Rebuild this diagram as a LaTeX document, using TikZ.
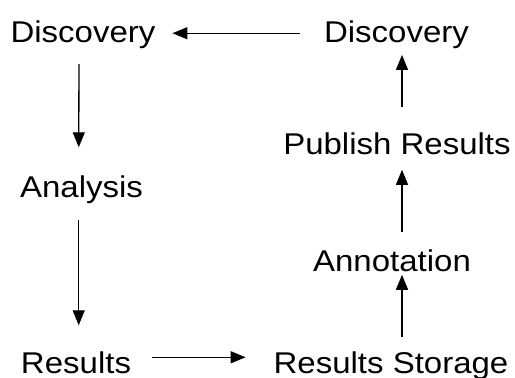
\documentclass[tikz,border=0pt]{standalone}
\usepackage{fontspec}
\setmainfont{Liberation Sans}[FakeStretch=1.1]
\usetikzlibrary{arrows.meta,positioning}
\tikzset{
  >={Triangle[length=15pt,width=12pt]},
  step label/.style={inner sep=0pt,outer sep=0pt,anchor=base,
    font=\fontsize{30}{36}\selectfont},
  flow/.style={->,line width=1.3pt,draw=black},
}
\begin{document}
\begin{tikzpicture}[x=1pt,y=-1pt]
  \useasboundingbox[fill=white] (0,0) rectangle (515,378);
  % stages
  \node[step label] (discL) at (83,42) {Discovery};
  \node[step label] (discR) at (396.5,42) {Discovery};
  \node[step label] (analysis) at (81.5,197) {Analysis};
  \node[step label] (results) at (76,373) {Results};
  \node[step label] (storage) at (391,373) {Results Storage};
  \node[step label] (annot) at (392,271) {Annotation};
  \node[step label] (publish) at (397,154) {Publish Results};
  % left column
  \draw[flow,shorten <=16pt,shorten >=28pt] ([xshift=-4pt]discL.south) -- ([xshift=-2.8pt]analysis.north);
  \draw[flow,shorten <=17pt,shorten >=26pt] ([xshift=-2.8pt]analysis.south) -- ([xshift=2.7pt]results.north);
  \draw[flow,shorten <=21pt,shorten >=28pt] ([yshift=5pt]results.east) -- ([yshift=5pt]results.east -| storage.west);
  % right column
  \draw[flow,shorten <=14pt,shorten >=3.5pt] ([xshift=11pt]storage.north) -- ([xshift=10pt]annot.south);
  \draw[flow,shorten <=17.5pt,shorten >=15.5pt] ([xshift=10pt]annot.north) -- ([xshift=5pt]publish.south);
  \draw[flow,shorten <=25pt,shorten >=6.7pt] ([xshift=5pt]publish.north) -- ([xshift=5.5pt]discR.south);
  \draw[flow,shorten <=24pt,shorten >=17pt] ([yshift=1pt]discR.west) -- ([yshift=1pt]discL.east);
\end{tikzpicture}
\end{document}
